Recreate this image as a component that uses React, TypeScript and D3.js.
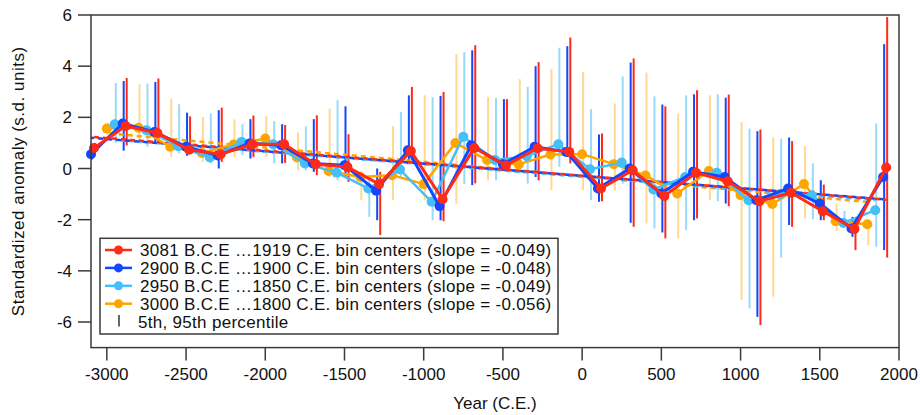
import React from "react";
import * as d3 from "d3";

// ---------- data ----------
const redYears = d3.range(26).map((k) => -3081 + 200 * k);
const redVals = [0.80, 1.66, 1.39, 0.73, 0.56, 0.95, 0.95, 0.17, 0.06, -0.61, 0.68, -1.20, 0.80, 0.12, 0.79, 0.65, -0.78, -0.07, -1.07, -0.17, -0.50, -1.28, -0.95, -1.67, -2.36, 0.04];
const redHi = [1.0, 3.54, 3.52, 2.04, 2.38, 2.07, 1.70, 2.08, 1.34, -0.13, 3.19, 2.99, 4.82, 2.71, 4.16, 5.12, 1.37, 4.30, 2.43, 3.06, 2.89, 1.52, 1.07, -0.63, -2.0, 5.92];
const redLo = [0.6, 0.9, 0.98, 0.65, 0.26, 0.45, 0.22, -0.26, -0.52, -2.6, 0.32, -2.06, -0.58, -0.07, -0.46, 0.2, -1.28, -2.28, -2.73, -1.95, -1.47, -6.12, -2.28, -2.02, -3.19, -3.48];

const blueYears = d3.range(26).map((k) => -3100 + 200 * k);
const blueVals = [0.56, 1.76, 1.43, 0.85, 0.51, 0.98, 0.91, 0.20, 0.13, -0.87, 0.71, -1.47, 0.91, 0.17, 0.85, 0.65, -0.78, 0.0, -0.98, -0.13, -0.33, -1.24, -0.78, -1.37, -2.34, -0.33];
const blueHi = [0.8, 3.42, 3.38, 2.18, 2.28, 1.93, 1.73, 1.93, 2.43, 0.0, 2.86, 2.84, 4.62, 2.71, 4.0, 4.78, 1.33, 4.14, 2.5, 2.90, 2.77, 1.46, 1.21, -0.46, -1.89, 4.86];
const blueLo = [0.35, 0.7, 1.0, 0.5, 0.0, 0.39, 0.2, -0.13, -0.33, -2.02, 0.3, -2.02, -0.65, -0.07, -0.33, 0.45, -1.3, -2.12, -2.5, -2.02, -1.37, -5.8, -2.21, -2.02, -2.67, -3.19];

const lightYears = d3.range(25).map((k) => -2950 + 200 * k);
const lightVals = [1.73, 1.50, 0.87, 0.43, 1.04, 0.95, 0.20, -0.16, -0.78, -0.04, -1.30, 1.24, 0.33, 0.48, 0.95, -0.03, 0.23, -0.82, -0.33, -0.17, -1.24, -1.0, -1.05, -2.13, -1.63];
const lightHi = [3.34, 3.32, 2.51, 2.15, 1.73, 1.85, 1.65, 2.67, -0.33, 2.21, 2.79, 4.55, 2.76, 3.19, 4.72, 2.32, 3.6, 2.82, 2.86, 2.9, 1.56, 1.17, 0.2, -1.66, 1.76];
const lightLo = [1.0, 0.85, 0.59, 0.2, 0.52, 0.2, -0.07, -0.46, -1.89, -0.33, -2.02, -0.6, -0.46, -0.59, 0.06, -1.24, -0.59, -2.34, -2.41, -1.28, -5.47, -3.48, -1.99, -2.28, -3.06];

const orangeYears = d3.range(25).map((k) => -3000 + 200 * k);
const orangeVals = [1.56, 1.59, 0.85, 0.61, 0.94, 1.17, 0.43, -0.10, -0.33, -0.26, -0.61, 1.00, 0.33, 0.16, 0.55, 0.56, 0.17, -0.27, -0.98, -0.10, -1.04, -1.39, -0.61, -2.06, -2.18];
const orangeHi = [1.8, 3.29, 2.73, 2.02, 1.92, 2.05, 1.41, 2.34, -0.1, 1.66, 2.86, 4.47, 2.8, 3.49, 3.9, 3.77, 2.54, 3.75, 2.15, 2.86, 1.82, 1.21, 0.88, -1.37, -2.0];
const orangeLo = [1.3, 0.98, 0.45, 0.26, 0.45, 0.45, -0.07, -0.33, -1.24, -1.24, -1.24, -1.37, -0.46, 0.06, -0.85, -0.85, -0.85, -2.15, -2.73, -1.24, -5.14, -5.01, -1.95, -2.44, -3.0];

const seriesLabels = [
  "3081 B.C.E \u20261919 C.E. bin centers (slope = -0.049)",
  "2900 B.C.E \u20261900 C.E. bin centers (slope = -0.048)",
  "2950 B.C.E \u20261850 C.E. bin centers (slope = -0.049)",
  "3000 B.C.E \u20261800 C.E. bin centers (slope = -0.056)",
];
const percentileLabel = "5th, 95th percentile";
const slopes = [-0.049, -0.048, -0.049, -0.056]; // per century
const trendStart = [1.23, 1.2, 1.12, 1.38]; // trend value at first bin center

const xTicks = [-3000, -2500, -2000, -1500, -1000, -500, 0, 500, 1000, 1500, 2000];
const yTicks = [-6, -4, -2, 0, 2, 4, 6];
const xTitle = "Year (C.E.)";
const yTitle = "Standardized anomaly (s.d. units)";

// ---------- styles ----------
const colors = ["#ff2a17", "#1346ff", "#45bff8", "#ffa500"];
const barColors = ["#ff2a17", "#1346ff", "#8fd6fb", "#ffd486"];
const FONT = "'Liberation Sans', Arial, Helvetica, sans-serif";

export default function App() {
  const W = 920, H = 415;
  const left = 91, right = 899, top = 15, bottom = 347.6;
  const x = d3.scaleLinear().domain([-3100, 2000]).range([left, right]);
  const y = d3.scaleLinear().domain([-7, 6]).range([bottom, top]);

  const series = [
    { years: redYears, vals: redVals, hi: redHi, lo: redLo },
    { years: blueYears, vals: blueVals, hi: blueHi, lo: blueLo },
    { years: lightYears, vals: lightVals, hi: lightHi, lo: lightLo },
    { years: orangeYears, vals: orangeVals, hi: orangeHi, lo: orangeLo },
  ];
  const line = d3.line<[number, number]>().x((d) => x(d[0])).y((d) => y(d[1]));
  const drawOrder = [3, 2, 1, 0];
  const axisColor = "#3a3a3a";

  return (
    <svg width={W} height={H} style={{ position: "absolute", left: 0, top: 0, background: "#fff" }} fontFamily={FONT}>
      <rect x={0} y={0} width={W} height={H} fill="#fff" />
      {/* error bars */}
      {drawOrder.map((si) => {
        const s = series[si];
        return (
          <g key={"bars" + si} opacity={si >= 2 ? 0.9 : 1}>
            {s.years.map((yr, i) => (
              <line key={i} x1={x(yr) + 1} x2={x(yr) + 1} y1={y(s.hi[i])} y2={y(s.lo[i])}
                stroke={barColors[si]} strokeWidth={2} />
            ))}
          </g>
        );
      })}
      {/* trend lines */}
      {[3, 2, 1, 0].map((si) => {
        const s = series[si];
        const y0 = s.years[0];
        const y1 = s.years[s.years.length - 1];
        const pts: [number, number][] = [
          [y0, trendStart[si]],
          [y1, trendStart[si] + (slopes[si] * (y1 - y0)) / 100],
        ];
        return (
          <path key={"trend" + si} d={line(pts) || ""} fill="none" stroke={colors[si]}
            strokeWidth={2.5} strokeDasharray="5,4" strokeDashoffset={si * 2} />
        );
      })}
      {/* series lines & points */}
      {drawOrder.map((si) => {
        const s = series[si];
        const pts: [number, number][] = s.years.map((yr, i) => [yr, s.vals[i]]);
        return (
          <g key={"s" + si}>
            <path d={line(pts) || ""} fill="none" stroke={colors[si]} strokeWidth={si < 2 ? 3 : 2.5} strokeLinejoin="round" />
            {pts.map((p, i) => (
              <circle key={i} cx={x(p[0])} cy={y(p[1])} r={5} fill={colors[si]} />
            ))}
          </g>
        );
      })}
      {/* frame */}
      <rect x={left} y={top} width={right - left} height={bottom - top} fill="none" stroke={axisColor} strokeWidth={1.5} />
      {/* y axis ticks */}
      {yTicks.map((t) => (
        <g key={"yt" + t}>
          <line x1={left - 13} x2={left} y1={y(t)} y2={y(t)} stroke={axisColor} strokeWidth={1.5} />
          <text x={left - 19} y={y(t)} dy="0.36em" textAnchor="end" fontSize={17} fill="#111">{t}</text>
        </g>
      ))}
      {/* x axis ticks */}
      {xTicks.map((t) => (
        <g key={"xt" + t}>
          <line x1={x(t)} x2={x(t)} y1={bottom} y2={bottom + 13} stroke={axisColor} strokeWidth={1.5} />
          <text x={x(t)} y={380} textAnchor="middle" fontSize={17} fill="#111">{t}</text>
        </g>
      ))}
      <text x={(left + right) / 2} y={409} textAnchor="middle" fontSize={17} fill="#111">{xTitle}</text>
      <text transform={`translate(24,${(top + bottom) / 2}) rotate(-90)`} textAnchor="middle" fontSize={17} fill="#111" letterSpacing={0.5}>{yTitle}</text>
      {/* legend */}
      <g>
        <rect x={100} y={238.3} width={458} height={95.7} fill="#fff" stroke={axisColor} strokeWidth={1.5} />
        {seriesLabels.map((lab, i) => {
          const cy = 250 + i * 17.9;
          return (
            <g key={"lg" + i}>
              <line x1={105} x2={132} y1={cy} y2={cy} stroke={colors[i]} strokeWidth={2.5} />
              <circle cx={118.5} cy={cy} r={4.5} fill={colors[i]} />
              <text x={140} y={cy} dy="0.36em" fontSize={17} fill="#111" letterSpacing={0.3}>{lab}</text>
            </g>
          );
        })}
        <line x1={119} x2={119} y1={315} y2={326.5} stroke="#333" strokeWidth={1.5} />
        <text x={138} y={250 + 4 * 17.9} dy="0.36em" fontSize={17} fill="#111" letterSpacing={0.3}>{percentileLabel}</text>
      </g>
    </svg>
  );
}
